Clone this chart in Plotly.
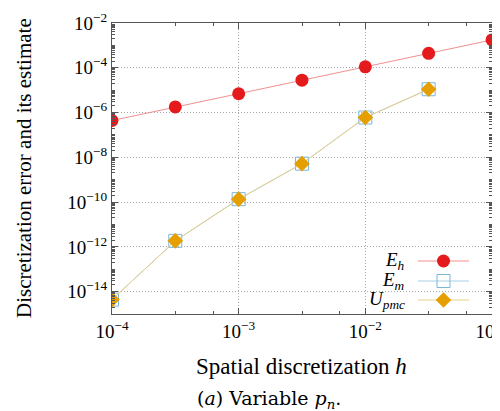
import plotly.graph_objects as go
import math

# ---- data ----
h = [1e-4, 3.16e-4, 1e-3, 3.16e-3, 1e-2, 3.16e-2, 1e-1]
E_h = [4.4e-7, 1.78e-6, 6.9e-6, 2.8e-5, 1.1e-4, 4.4e-4, 1.75e-3]
h_m = [1e-4, 3.16e-4, 1e-3, 3.16e-3, 1e-2, 3.16e-2]
E_m = [4.4e-15, 1.85e-12, 1.35e-10, 5.2e-9, 6.0e-7, 1.1e-5]
U_pmc = [4.4e-15, 1.85e-12, 1.35e-10, 5.2e-9, 6.0e-7, 1.1e-5]
names = ["<i>E<sub>h</sub></i>", "<i>E<sub>m</sub></i>", "<i>U<sub>pmc</sub></i>"]
x_exps = [-4, -3, -2, -1]
y_exps = [-2, -4, -6, -8, -10, -12, -14]

FONT = "Liberation Serif"
red = "#e41a1c"
red_line = "#f09090"
blue = "#7ab6d8"
blue_line = "#a8d0e6"
orange = "#e69f00"
yel_line = "#e8cf8a"

fig = go.Figure()
fig.add_trace(go.Scatter(x=h, y=E_h, mode="lines+markers",
                         line=dict(color=red_line, width=1),
                         marker=dict(symbol="circle", size=13, color=red),
                         showlegend=False))
fig.add_trace(go.Scatter(x=h_m, y=E_m, mode="lines+markers",
                         line=dict(color=blue_line, width=1),
                         marker=dict(symbol="square-open", size=13, color=blue, line=dict(width=1)),
                         showlegend=False))
fig.add_trace(go.Scatter(x=h_m, y=U_pmc, mode="lines+markers",
                         line=dict(color=yel_line, width=1),
                         marker=dict(symbol="diamond", size=12, color=orange),
                         showlegend=False))

# ---- custom legend (text left, sample right) on hidden overlay axes ----
L, R, T, B = 104, 484, 15, 306
W, H = R - L, B - T
def px(xp): return (xp - L) / W
def py(yp): return (B - yp) / H
leg_y = [253, 273, 292]
styles = [
    (red_line, dict(symbol="circle", size=13, color=red)),
    (blue_line, dict(symbol="square-open", size=13, color=blue, line=dict(width=1))),
    (yel_line, dict(symbol="diamond", size=12, color=orange)),
]
for yy, (lc, mk), nm in zip(leg_y, styles, names):
    fig.add_trace(go.Scatter(x=[px(410), px(461)], y=[py(yy), py(yy)], mode="lines",
                             line=dict(color=lc, width=1), xaxis="x2", yaxis="y2",
                             showlegend=False, hoverinfo="skip"))
    fig.add_trace(go.Scatter(x=[px(435.5)], y=[py(yy)], mode="markers", marker=mk,
                             xaxis="x2", yaxis="y2", showlegend=False, hoverinfo="skip"))
    fig.add_annotation(x=px(399), y=py(yy), xref="paper", yref="paper",
                       text=nm, showarrow=False, xanchor="right", yanchor="middle",
                       font=dict(family=FONT, size=19, color="black"))

xminor = []
for k in range(-4, -1):
    xminor += [10 ** (k + 0.5), 10 ** (k + math.log10(6.3))]
yminor = []
for k in range(-15, -2):
    yminor += [d * 10 ** k for d in range(2, 10)]
    if k % 2 != 0:
        yminor.append(10 ** k)

axis_common = dict(type="log", showline=True, linecolor="#555", linewidth=1.2,
                   mirror="allticks", ticks="inside", ticklen=6, tickcolor="#555",
                   showgrid=True, gridcolor="#a8a8a8", griddash="1px,2px", gridwidth=1,
                   zeroline=False, automargin=False, ticklabeloverflow="allow",
                   tickfont=dict(family=FONT, size=19, color="black"))

fig.update_layout(
    width=500, height=411,
    margin=dict(l=L, r=500 - R, t=T, b=411 - B),
    paper_bgcolor="white", plot_bgcolor="white",
    showlegend=False,
    xaxis=dict(axis_common, range=[-4, -1], tickvals=[10.0 ** e for e in x_exps],
               ticktext=["10<sup>\u2212%d</sup>" % (-e) for e in x_exps],
               minor=dict(tickvals=xminor, ticks="inside", ticklen=3, tickcolor="#555", showgrid=False)),
    yaxis=dict(axis_common, range=[-15, -2],
               tickvals=[10.0 ** e for e in y_exps],
               ticktext=["10<sup>\u2212%d</sup>" % (-e) for e in y_exps],
               minor=dict(tickvals=yminor, ticks="inside", ticklen=3, tickcolor="#555", showgrid=False)),
    xaxis2=dict(overlaying="x", range=[0, 1], visible=False, fixedrange=True),
    yaxis2=dict(overlaying="y", range=[0, 1], visible=False, fixedrange=True),
)

# axis titles and caption as annotations (placed to match the reference layout)
fig.add_annotation(x=(293 - L) / W, y=(B - 358) / H, xref="paper", yref="paper",
                   text="Spatial discretization <i>h</i>", showarrow=False,
                   xanchor="center", yanchor="middle",
                   font=dict(family=FONT, size=23, color="black"))
fig.add_annotation(x=(16 - L) / W, y=(B - 160) / H, xref="paper", yref="paper",
                   text="Discretization error and its estimate", showarrow=False,
                   textangle=-90, xanchor="center", yanchor="middle",
                   font=dict(family=FONT, size=21, color="black"))
fig.add_annotation(x=(261 - L) / W, y=(B - 391) / H, xref="paper", yref="paper",
                   text="(<i>a</i>) Variable <i>p<sub>n</sub></i>.", showarrow=False,
                   xanchor="center", yanchor="middle",
                   font=dict(family="DejaVu Serif", size=19, color="black"))

fig.write_html("out.html")
